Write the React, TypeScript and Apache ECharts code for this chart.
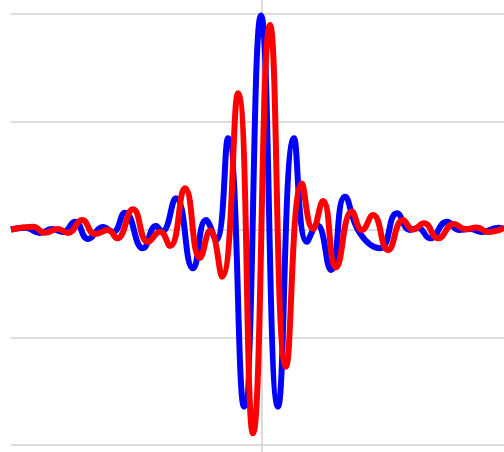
import React, { useEffect, useRef } from "react";
import * as echarts from "echarts";

// x positions (time units), y values
const blueX = [-2.51, -2.37, -2.22, -2.10, -1.99, -1.87, -1.74, -1.59, -1.49, -1.37, -1.19, -1.06, -1.00, -0.86, -0.69, -0.56, -0.46, -0.34, -0.18, -0.01, 0.16, 0.32, 0.45, 0.55, 0.69, 0.83, 0.98, 1.18, 1.35, 1.48, 1.56, 1.68, 1.85, 1.97, 2.08, 2.20, 2.36, 2.42];
const blueY = [0.0, 0.008, -0.016, 0.002, -0.012, 0.036, -0.044, 0.012, -0.012, 0.078, -0.087, 0.016, -0.01, 0.145, -0.18, 0.044, -0.049, 0.423, -0.822, 0.993, -0.822, 0.423, -0.057, 0.021, -0.188, 0.152, -0.018, -0.087, 0.075, -0.002, 0.007, -0.041, 0.036, -0.002, 0.002, -0.012, 0.008, 0.002];

const redX = [-2.51, -2.29, -2.17, -2.04, -1.94, -1.80, -1.67, -1.54, -1.45, -1.29, -1.14, -1.02, -0.92, -0.77, -0.62, -0.52, -0.40, -0.24, -0.09, 0.08, 0.24, 0.40, 0.51, 0.61, 0.74, 0.90, 1.00, 1.11, 1.26, 1.41, 1.51, 1.62, 1.76, 1.92, 2.03, 2.15, 2.26, 2.42];
const redY = [0.0, 0.013, -0.015, 0.002, -0.016, 0.044, -0.021, -0.002, -0.041, 0.094, -0.057, -0.01, -0.077, 0.191, -0.132, -0.005, -0.219, 0.632, -0.946, 0.949, -0.637, 0.214, 0.002, 0.132, -0.176, 0.083, -0.002, 0.067, -0.095, 0.044, 0.0, 0.029, -0.041, 0.026, 0.002, 0.009, -0.012, 0.007];

const X_MIN = -2.51;
const X_MAX = 2.42;
const Y_MIN = -1;
const Y_MAX = 1;
const Y_STEP = 0.5;

export default function App() {
  const ref = useRef<HTMLDivElement>(null);
  useEffect(() => {
    if (!ref.current) return;
    const chart = echarts.init(ref.current, undefined, { renderer: "svg" });
    const blue = blueX.map((x, i) => [x, blueY[i]]);
    const red = redX.map((x, i) => [x, redY[i]]);
    chart.setOption({
      animation: false,
      backgroundColor: "#ffffff",
      grid: { left: 11, right: 0, top: 14, bottom: 7, containLabel: false },
      xAxis: {
        type: "value",
        min: X_MIN,
        max: X_MAX,
        axisLine: { show: false },
        axisTick: { show: false },
        axisLabel: { show: false },
        splitLine: { show: false },
      },
      yAxis: {
        type: "value",
        min: Y_MIN,
        max: Y_MAX,
        interval: Y_STEP,
        axisLine: { show: false },
        axisTick: { show: false },
        axisLabel: { show: false },
        splitLine: { show: true, lineStyle: { color: "#dcdcdc", width: 2 } },
      },
      series: [
        {
          type: "line",
          data: blue,
          smooth: 0.5,
          showSymbol: false,
          clip: false,
          lineStyle: { color: "#0000ff", width: 6 },
          z: 2,
        },
        {
          type: "line",
          data: red,
          smooth: 0.5,
          showSymbol: false,
          clip: false,
          lineStyle: { color: "#ff0000", width: 6 },
          z: 3,
        },
      ],
    });
    const px = chart.convertToPixel({ xAxisIndex: 0 }, 0) as number;
    chart.setOption({
      graphic: [
        {
          type: "line",
          z: 0,
          silent: true,
          shape: { x1: px, y1: 0, x2: px, y2: 452 },
          style: { stroke: "#dcdcdc", lineWidth: 2 },
        },
      ],
    });
    return () => chart.dispose();
  }, []);
  return (
    <div
      ref={ref}
      style={{ position: "fixed", left: 0, top: 0, width: 504, height: 452 }}
    />
  );
}
